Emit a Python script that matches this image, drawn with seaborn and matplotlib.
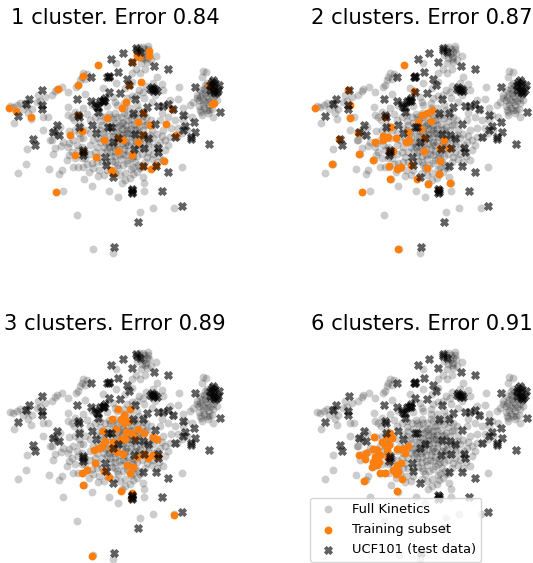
import matplotlib
matplotlib.use("Agg")
import matplotlib.pyplot as plt
from matplotlib.markers import MarkerStyle
from matplotlib.path import Path
import numpy as np
import pandas as pd
import seaborn as sns

titles = ["1 cluster. Error 0.84", "2 clusters. Error 0.87", "3 clusters. Error 0.89", "6 clusters. Error 0.91"]

kinetics = [(428,50),(445,48),(440,65),(467,78),(440,95),(348,98),(408,117),(435,117),(608,122),(618,126),(605,142),(348,160),(395,155),
(460,160),(485,163),(537,172),(490,180),(437,168),(418,180),(205,187),(187,172),(165,182),(255,192),(250,130),(240,150),(235,165),(245,140),
(115,195),(110,215),(60,220),(75,218),(30,228),(42,280),(92,268),(130,262),(143,260),(85,250),(535,208),(570,225),(597,228),(548,235),(640,262),
(605,255),(620,240),(600,200),(610,210),(625,205),(640,220),(203,232),(205,255),(215,260),(250,235),(262,253),(222,270),(155,307),(165,300),
(207,302),(207,338),(80,356),(79,401),(54,428),(148,416),(160,372),(165,355),(183,347),(185,420),(177,433),(202,390),(220,410),(235,410),(248,410),
(262,402),(275,400),(252,447),(275,467),(295,437),(328,482),(355,502),(433,483),(433,458),(428,440),(365,460),(375,450),(398,432),(380,400),(393,418),
(355,415),(435,395),(405,395),(545,410),(190,484),(232,555),(278,658),(340,668),(419,547),(458,534),(522,535),(240,325),(250,325),(230,345),(245,350),
(270,345),(290,350),(215,365),(245,385),(270,372),(225,385),(207,375),(300,300),(312,322),(322,300),(338,268),(345,280),(352,292),(362,262),(370,275),
(380,255),(392,268),(402,282),(412,298),(425,272),(438,262),(452,270),(455,300),(470,312),(445,345),(420,340),(408,332),(395,320),(382,310),(372,298),
(360,312),(348,330),(335,345),(345,362),(358,375),(372,358),(385,345),(398,365),(412,378),(425,372),(440,380),(322,360),(332,378),(305,365),(345,395),
(362,388),(378,375),(395,385),(415,358),(368,325),(378,335),(392,298),(358,285),(340,302),(330,318),(318,338),(405,255),(418,240),(390,235),(372,235),
(345,248),(328,252),(315,262),(300,272),(285,262),(270,270),(350,225),(372,218),(395,198),(412,225),(432,205),(455,215),(485,250),(505,262),(525,270),
(512,295),(535,295),(548,270),(490,300),(480,335),(462,350),(495,360),(505,345),(450,315),(480,270),(290,395),(305,395),(320,420),(225,300),(238,310),
(180,290),(130,300),(150,330),(340,200),(310,175),(395,130),(375,175),(420,130),(470,140),(580,215),(600,240),(615,190),(628,240),(590,195),(560,300),
# right-hand clump
(612,178),(622,172),(630,190),(618,198),(606,190),(598,210),(608,222),(618,215),(630,212),(640,205),(636,238),(625,250),(612,235),(650,210),(645,195),(632,165),(620,158),(614,165),(600,180),(590,205),(604,245),(626,226),
# top clump
(420,62),(430,72),(438,80),(425,85),(416,50),(432,56),(448,70),(412,75),(452,90),(422,100),(435,88),(445,58),
# left arm and lower ring
(40,232),(52,226),(68,236),(82,228),(95,236),(120,212),(135,202),(155,195),(170,178),(262,132),(255,148),(228,172),(170,315),(155,330),(190,335),(205,350),(220,330),(235,360),(255,365),(255,385),
(280,330),(295,325),(270,310),(255,300),(240,285),(225,245),(275,225),(300,255),(320,228),(345,215),(380,205),(410,195),(430,185),(465,195),(510,210),(520,240),(555,255),(575,260),(545,310),(530,320),(510,320),
# dense centre
(330,262),(350,262),(372,250),(385,270),(398,255),(412,265),(430,258),(442,282),(430,300),(418,312),(405,300),(392,285),(378,285),(365,298),(350,305),(335,290),(320,278),(305,285),(288,295),(310,310),
(325,335),(338,318),(352,345),(365,340),(378,322),(392,335),(405,345),(420,325),(435,330),(448,332),(460,325),(472,345),(485,318),(495,330),(300,335),(285,365),(295,380),(312,350),(328,352),(345,378),
(358,358),(370,372),(385,362),(400,378),(415,345),(428,355),(445,365),(460,372),(478,378),(490,390),(470,395),(455,388),(415,405),(400,410),(385,390),(368,405),(350,405),(335,392),(320,395),(345,428),
(360,435),(375,428),(390,445),(410,425),(420,415),(312,435),(298,420),(280,415),(268,425),(380,300),(365,315),(375,345),(388,310),(400,315),(355,322),(342,350),(330,365),(418,290),(435,285),(365,280)]

ucf101 = [(408,55),(368,68),(334,88),(395,96),(462,107),(504,117),(353,126),(326,140),(272,140),(380,148),(388,165),(460,178),(450,178),(470,182),
(127,180),(87,207),(78,222),(125,225),(125,238),(54,257),(232,208),(272,213),(326,185),(360,188),(405,208),(300,212),(312,212),(290,230),(295,245),
(235,255),(238,262),(440,232),(428,250),(475,228),(490,228),(505,222),(518,238),(398,250),(548,255),(584,172),(635,155),(658,165),(640,170),(650,185),
(630,180),(660,245),(583,275),(585,305),(555,288),(548,300),(572,328),(525,320),(465,283),(405,312),(430,315),(445,323),(172,285),(158,305),(177,314),
(100,327),(105,344),(238,292),(275,285),(288,310),(325,290),(332,292),(355,325),(340,335),(628,342),(250,365),(248,375),(403,357),(433,355),(473,355),
(475,365),(315,380),(318,405),(428,408),(467,407),(505,425),(340,440),(397,480),(397,485),(487,484),(545,528),(413,576),(342,650),(326,138),(310,210),
(640,150),(645,190),(460,183),(322,142),(308,214),(314,205),(455,172),(465,176),(395,478),(395,488),(250,360),(645,160),(630,165),(640,182),(655,180),(285,222),(295,232),(572,322),(410,60),(420,65)]

subset_1 = [(27,233),(47,242),(94,260),(174,177),(233,164),(250,138),(295,106),(412,76),(418,80),(446,63),(446,77),(424,155),(388,165),(378,215),(367,235),
(321,263),(235,255),(247,303),(209,316),(311,331),(353,323),(370,331),(415,276),(451,285),(498,281),(430,315),(415,336),(353,363),(397,376),(224,376),
(288,381),(250,365),(332,420),(340,428),(428,408),(452,417),(467,405),(493,392),(169,486),(395,97),(628,165),(636,175),(636,222),(642,220),(517,238),(527,316),(428,250)]
subset_2 = [(25,233),(293,106),(125,180),(131,225),(130,264),(155,308),(97,327),(235,262),(253,290),(228,317),(228,330),(245,321),(269,323),(205,337),
(260,362),(248,365),(158,371),(199,391),(77,401),(247,409),(275,413),(270,417),(282,410),(249,447),(167,486),(275,658),(303,306),(297,336),(307,331),
(322,183),(347,254),(360,250),(375,240),(373,274),(335,276),(343,296),(353,324),(412,331),(401,355),(428,353),(352,363),(399,392),(362,415),(396,432),
(431,459),(363,463),(330,447),(395,481),(312,404)]
subset_3 = [(355,220),(391,220),(372,236),(337,250),(362,250),(372,260),(385,254),(348,279),(415,278),(378,287),(392,290),(431,290),(310,285),(458,302),
(472,310),(405,302),(362,310),(375,308),(316,315),(340,318),(282,342),(296,337),(305,330),(333,337),(352,347),(368,354),(412,362),(433,354),(443,367),
(460,357),(474,360),(286,381),(382,387),(400,393),(390,411),(313,405),(327,422),(260,403),(247,411),(250,448),(362,465),(395,472),(394,487),(521,536),(276,659)]
subset_6 = [(203,304),(250,292),(240,302),(255,307),(225,317),(235,327),(248,327),(200,339),(212,342),(240,342),(270,340),(285,339),(305,330),(295,352),
(158,356),(177,350),(175,370),(205,362),(220,357),(200,377),(218,377),(195,392),(245,367),(283,380),(272,387),(260,402),(220,412),(235,410),(268,414),
(275,407),(287,429),(171,434),(271,465),(245,360),(212,387)]
subsets = [subset_1, subset_2, subset_3, subset_6]

W, H = 533, 563
sns.set_style("white")
plt.rcParams["font.family"] = ["DejaVu Sans"]
plt.rcParams["text.color"] = "black"
fig = plt.figure(figsize=(W/100, H/100), dpi=100)

# chunky X marker, closer to the reference's blurred crosses
a, b = 0.42, 1.0
arm = np.array([(a,b),(a,a),(b,a),(b,-a),(a,-a),(a,-b),(-a,-b),(-a,-a),(-b,-a),(-b,a),(-a,a),(-a,b),(a,b)])
rot = np.array([[1,-1],[1,1]])/np.sqrt(2)
x_marker = MarkerStyle(Path(arm @ rot.T, closed=True))

boxes = [(0, 30, 240, 240), (306.7, 30, 226.3, 240), (0, 336, 240, 227), (306.7, 336, 226.3, 227)]
title_x = [115, 421.5, 115, 421.5]
title_y = [24, 24, 330, 330]
kin = pd.DataFrame(kinetics, columns=["x", "y"])
ucf = pd.DataFrame(ucf101, columns=["x", "y"])

for i, (l, t, w, h) in enumerate(boxes):
    ax = fig.add_axes([l/W, 1-(t+h)/H, w/W, h/H])
    sns.scatterplot(data=kin, x="x", y="y", ax=ax, color="black", alpha=0.2, s=32, linewidth=0, label="Full Kinetics", zorder=1)
    sub = pd.DataFrame(subsets[i], columns=["x", "y"])
    sns.scatterplot(data=sub, x="x", y="y", ax=ax, color="#ff7f0e", s=32, linewidth=0, label="Training subset", zorder=2)
    sns.scatterplot(data=ucf, x="x", y="y", ax=ax, color="black", alpha=0.62, s=44, marker=x_marker, linewidth=0, label="UCF101 (test data)", zorder=3)
    ax.set_xlim(0, w*3)
    ax.set_ylim(h*3, 0)
    ax.axis("off")
    fig.text(title_x[i]/W, 1-title_y[i]/H, titles[i], fontsize=15.2, ha="center", va="baseline")
    if i == 3:
        leg = ax.legend(loc="lower left", bbox_to_anchor=(310/W, 1.5/H), bbox_transform=fig.transFigure,
                        fontsize=9.4, borderaxespad=0, frameon=True, framealpha=0.8, labelspacing=0.55)
        leg.set_zorder(10)
    else:
        ax.get_legend().remove()

fig.savefig("out.png", dpi=100)
